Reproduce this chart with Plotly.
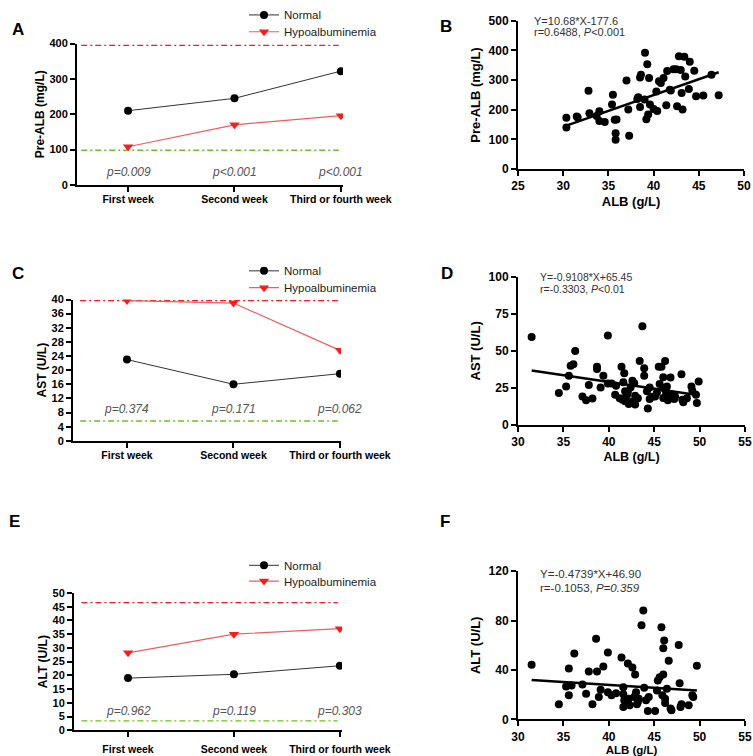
import plotly.graph_objects as go

W, H = 753, 756

weeks = ["First week", "Second week", "Third or fourth week"]

# Panel A: Pre-ALB
preALB_normal = [210, 245, 322]
preALB_hypo = [108, 170, 196]
preALB_ref = [395, 98]
preALB_p = ["p=0.009", "p<0.001", "p<0.001"]

# Panel C: AST
ast_normal = [23, 16, 19]
ast_hypo = [39.7, 39, 25.6]
ast_ref = [39.7, 5.6]
ast_p = ["p=0.374", "p=0.171", "p=0.062"]

# Panel E: ALT
alt_normal = [19, 20.4, 23.5]
alt_hypo = [28.2, 35, 37]
alt_ref = [46.5, 3.4]
alt_p = ["p=0.962", "p=0.119", "p=0.303"]

# Panel B scatter: ALB vs Pre-ALB
b_x = [30.35, 30.35, 31.5, 31.6, 32.8, 32.9, 33.7, 34.0, 34.0, 34.6, 35.4, 35.5, 35.7, 35.8, 35.8,
       35.9, 37.0, 37.2, 37.3, 38.2, 38.3, 38.5, 38.5, 38.6, 39.05, 39.0, 39.2, 39.3, 39.4, 39.5,
       39.6, 40.0, 40.3, 40.4, 40.6, 40.8, 41.1, 41.4, 41.5, 41.8, 41.9, 42.2, 42.5, 42.6, 42.8,
       43.0, 43.1, 43.2, 43.4, 43.5, 43.9, 44.0, 44.5, 44.7, 45.5, 46.4, 47.2]
b_y = [140, 173, 177, 174, 264, 188, 179, 195, 162, 159, 218, 251, 166, 121, 99,
       167, 299, 201, 112, 236, 242, 209, 309, 318, 392, 235, 168, 354, 184, 307,
       218, 203, 262, 196, 296, 290, 307, 215, 331, 268, 265, 337, 337, 212, 381,
       334, 257, 201, 379, 312, 270, 362, 332, 246, 248, 318, 249]
b_eq = ["Y=10.68*X-177.6", "r=0.6488, <i>P</i><0.001"]
b_fit = [10.68, -177.6]

# Panel D scatter: ALB vs AST
d_x = [31.5, 34.5, 35.3, 35.6, 35.8, 36.1, 36.3, 37.1, 37.5, 37.8, 38.2, 38.7, 38.7, 39.1, 39.4,
       39.9, 39.9, 40.3, 40.7, 40.8, 41.2, 41.4, 41.5, 41.6, 41.7, 41.8, 41.8, 41.9, 42.0, 42.1,
       42.2, 42.4, 42.6, 42.6, 42.8, 42.9, 42.9, 43.2, 43.4, 43.7, 43.9, 43.9, 44.2, 44.3, 44.5,
       44.5, 44.8, 45.1, 45.3, 45.5, 45.6, 45.8, 46.0, 46.0, 46.0, 46.2, 46.3, 46.4, 46.5, 46.8,
       46.8, 47.0, 47.2, 47.3, 48.0, 48.1, 48.2, 48.6, 49.1, 49.2, 49.6, 49.7, 49.9]
d_y = [59.3, 21.6, 26, 33.3, 40, 41, 50, 19.3, 16.7, 27, 17.8, 39.3, 37.8, 25.3, 33.3,
       28, 60.4, 28, 20.4, 26.4, 18, 39.3, 17.1, 28.9, 34.9, 22.7, 16, 19.3, 20, 22.2,
       14.2, 25.3, 15.6, 29.8, 28.2, 19.8, 13.8, 18, 43.1, 66.7, 38.2, 33.3, 22.7, 11.1, 17.6,
       25.3, 19, 19.3, 22, 39.3, 27.6, 39.3, 24.9, 18.2, 32.2, 43.1, 22.2, 26, 16.7, 32,
       20, 18.2, 17.5, 19.3, 34.2, 17.1, 15.3, 18, 26, 23.1, 20.4, 14.9, 29.3]
d_eq = ["Y=-0.9108*X+65.45", "r=-0.3303, <i>P</i><0.01"]
d_fit = [-0.9108, 65.45]

# Panel F scatter: ALB vs ALT
f_x = [31.5, 34.5, 35.3, 35.6, 35.6, 35.9, 36.2, 37.1, 37.5, 37.8, 38.2, 38.6, 38.7, 38.9, 39.1,
       39.4, 39.9, 39.9, 40.3, 40.8, 41.4, 41.6, 41.6, 41.6, 41.7, 41.9, 42.1, 42.2, 42.3, 42.6,
       42.8, 42.9, 43.0, 43.1, 43.2, 43.3, 43.6, 43.8, 43.9, 44.1, 44.3, 44.4, 45.1, 45.3, 45.4,
       45.6, 45.8, 45.9, 46.0, 46.0, 46.1, 46.2, 46.2, 46.4, 46.6, 46.8, 46.9, 47.7, 47.8, 47.9,
       48.0, 48.8, 49.2, 49.3, 49.7]
f_y = [44.3, 12.3, 26.7, 19.5, 41.3, 27.5, 53.3, 28.3, 20.8, 38.9, 12.3, 65.3, 38.9, 18.1, 24,
       42.9, 54.1, 22.1, 19.5, 21.3, 50.1, 20.3, 26.1, 10.1, 15.5, 12.3, 45.3, 16.8, 11.5, 42.1,
       18.1, 36.3, 22.1, 12.3, 14.1, 16.8, 76.3, 88.3, 25.6, 15.5, 6.9, 18.1, 6.9, 23.5, 31.5,
       34.1, 74.7, 19.5, 36.3, 57.6, 64, 13.3, 16.8, 24.8, 47.5, 8.8, 7.5, 60.3, 29.3, 10.1,
       12.3, 11.5, 19.5, 18.1, 43.5]
f_eq = ["Y=-0.4739*X+46.90", "r=-0.1053, <i>P=0.359</i>"]
f_fit = [-0.4739, 46.90]

FONT = "Liberation Sans, Arial, sans-serif"
RED = "#ff1a1a"
RED_LINE = "#f25c5c"
GREEN = "#6cc21f"

fig = go.Figure()


def px_x(p):
    return p / W


def px_y(p):
    return 1 - p / H


line_panels = [
    # (axis suffix, normal, hypo, ref, pvals, p_y, legend names, legend y px)
    ("", preALB_normal, preALB_hypo, preALB_ref, preALB_p, 36, ("legend", "legend2"), (6, 23)),
    ("3", ast_normal, ast_hypo, ast_ref, ast_p, 9.0, ("legend3", "legend4"), (265, 282)),
    ("5", alt_normal, alt_hypo, alt_ref, alt_p, 7.2, ("legend5", "legend6"), (563, 579)),
]

legend_layout = {}
leg_common = dict(xref="paper", yref="paper", xanchor="left", yanchor="middle",
                  bgcolor="rgba(0,0,0,0)", font=dict(family=FONT, size=11.5, color="#222222"),
                  itemwidth=30, tracegroupgap=0, borderwidth=0)

for suf, nrm, hyp, ref, pv, py, legs, legy in line_panels:
    xa = "x" + suf
    ya = "y" + suf
    fig.add_trace(go.Scatter(x=weeks, y=nrm, mode="lines+markers", name="Normal",
                             line=dict(color="#333333", width=1),
                             marker=dict(color="black", size=8, symbol="circle"),
                             xaxis=xa, yaxis=ya, legend=legs[0], showlegend=True))
    fig.add_trace(go.Scatter(x=weeks, y=hyp, mode="lines+markers", name="Hypoalbuminemia",
                             line=dict(color=RED_LINE, width=1.2),
                             marker=dict(color=RED, size=9, symbol="triangle-down"),
                             xaxis=xa, yaxis=ya, legend=legs[1], showlegend=True))
    for lg, ly in zip(legs, legy):
        legend_layout[lg] = dict(leg_common, x=px_x(244), y=px_y(ly))
    for val, col in zip(ref, [RED, GREEN]):
        fig.add_shape(type="line", xref=xa, yref=ya, x0=-0.44, x1=1.98, y0=val, y1=val,
                      line=dict(color=col, width=1.3, dash="6px,3px,2px,3px"), layer="below")
    for i, t in enumerate(pv):
        fig.add_annotation(x=weeks[i], y=py, xref=xa, yref=ya, text="<i>" + t + "</i>",
                           showarrow=False, font=dict(family=FONT, size=12, color="#555555"))

scatter_panels = [
    ("2", b_x, b_y, b_fit),
    ("4", d_x, d_y, d_fit),
    ("6", f_x, f_y, f_fit),
]
for suf, xs, ys, fit in scatter_panels:
    xa = "x" + suf
    ya = "y" + suf
    fig.add_trace(go.Scatter(x=xs, y=ys, mode="markers", marker=dict(color="black", size=8),
                             xaxis=xa, yaxis=ya, showlegend=False))
    lx = [min(xs), max(xs)]
    ly = [fit[0] * v + fit[1] for v in lx]
    fig.add_trace(go.Scatter(x=lx, y=ly, mode="lines", line=dict(color="black", width=2.5),
                             xaxis=xa, yaxis=ya, showlegend=False))

# scatter equation annotations (paper px positions)
eq_pos = [(b_eq, 532, 12, 23, 11), (d_eq, 538, 271, 283, 10.5), (f_eq, 538, 572, 586, 11.5)]
for eq, x0, y1, y2, fs in eq_pos:
    for t, yy in zip(eq, [y1, y2]):
        fig.add_annotation(x=px_x(x0), y=px_y(yy), xref="paper", yref="paper", text=t,
                           xanchor="left", yanchor="middle", showarrow=False,
                           font=dict(family=FONT, size=fs, color="#333333"))

# panel letters
for letter, x0, y0 in [("A", 18, 21), ("B", 446, 18), ("C", 18, 268), ("D", 447, 268),
                       ("E", 14, 519), ("F", 445, 519)]:
    fig.add_annotation(x=px_x(x0), y=px_y(y0), xref="paper", yref="paper", text="<b>" + letter + "</b>",
                       showarrow=False, xanchor="center", yanchor="middle",
                       font=dict(family=FONT, size=17, color="black"))

axis_common = dict(showline=True, linecolor="black", linewidth=2, ticks="outside", ticklen=5,
                   tickwidth=2, tickcolor="black", showgrid=False, zeroline=False,
                   automargin=False, fixedrange=True)


def cat_x(d0, d1, rng, anchor, lso):
    return dict(axis_common, domain=[px_x(d0), px_x(d1)], range=rng, anchor=anchor,
                type="category", ticklabelstandoff=lso,
                tickfont=dict(family=FONT, size=10.5, color="black", weight="bold"))


def lin_y(d0, d1, rng, dt, anchor, title, fs=11, standoff=2):
    return dict(axis_common, domain=[px_y(d0), px_y(d1)], range=rng, dtick=dt, anchor=anchor,
                tickfont=dict(family=FONT, size=fs, color="black", weight="bold"),
                title=dict(text="<b>" + title + "</b>", standoff=standoff,
                           font=dict(family=FONT, size=12 if fs == 11 else 13, color="black")))


def sc_x(d0, d1, rng, anchor, tfs=13, tso=4):
    return dict(axis_common, domain=[px_x(d0), px_x(d1)], range=rng, dtick=5, anchor=anchor,
                tickfont=dict(family=FONT, size=12, color="black", weight="bold"),
                title=dict(text="<b>ALB (g/L)</b>", standoff=tso,
                           font=dict(family=FONT, size=tfs, color="black")))


fig.update_layout(
    width=W, height=H, margin=dict(l=0, r=0, t=0, b=0), autosize=False,
    paper_bgcolor="white", plot_bgcolor="white", hovermode=False,
    xaxis=cat_x(77, 343, [-0.48, 2.02], "y", -1),
    yaxis=lin_y(178, 35, [0, 400], 100, "x", "Pre-ALB (mg/L)"),
    xaxis3=cat_x(73, 341, [-0.507, 2.01], "y3", -1),
    yaxis3=lin_y(437, 294, [0, 40], 4, "x3", "AST (U/L)"),
    xaxis5=cat_x(74, 342, [-0.51, 2.02], "y5", 3),
    yaxis5=lin_y(730, 591, [0, 50], 5, "x5", "ALT (U/L)"),
    xaxis2=sc_x(518, 744, [25, 50], "y2", 13, 4),
    yaxis2=lin_y(162, 12, [0, 500], 100, "x2", "Pre-ALB (mg/L)", fs=12, standoff=5),
    xaxis4=sc_x(518, 745, [30, 55], "y4", 12.5, 4),
    yaxis4=lin_y(421, 271, [0, 100], 25, "x4", "AST (U/L)", fs=12, standoff=5),
    xaxis6=sc_x(518, 745, [30, 55], "y6", 11.5, 4),
    yaxis6=lin_y(719, 569, [0, 120], 40, "x6", "ALT (U/L)", fs=12, standoff=5),
    **legend_layout,
)

fig.write_html("out.html", config={"displayModeBar": False},
               post_script="document.body.style.margin='0';document.body.style.overflow='hidden';")
